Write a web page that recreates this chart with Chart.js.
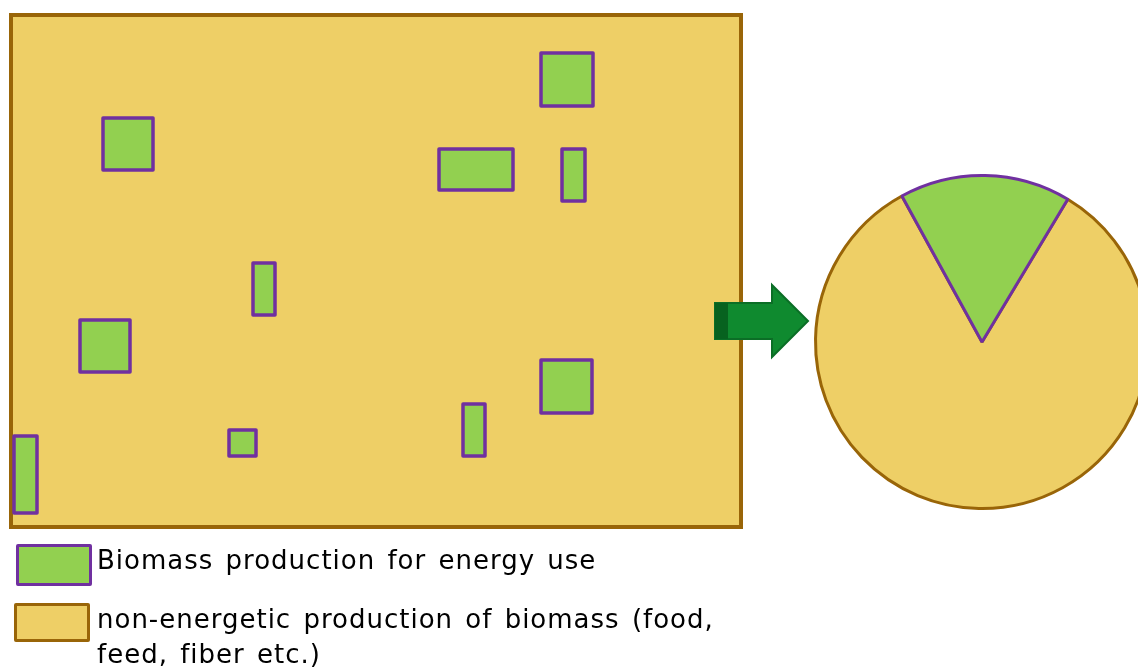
<!DOCTYPE html>
<html><head><meta charset="utf-8">
<script src="https://cdn.jsdelivr.net/npm/chart.js@4/dist/chart.umd.min.js"></script>
<style>
html,body{margin:0;padding:0;background:#fff;width:1138px;height:669px;overflow:hidden;position:relative}
#main{position:absolute;left:0;top:0}
#pieWrap{position:absolute;left:810px;top:170px;width:344px;height:344px}
.legend{position:absolute;left:97px;font-family:"DejaVu Sans",sans-serif;font-size:26px;color:#000;line-height:35px;white-space:nowrap;letter-spacing:1px;word-spacing:3px;font-variant-ligatures:none}
.sw{position:absolute;box-sizing:border-box;border-radius:2px}
</style></head><body>
<canvas id="main" width="1138" height="669"></canvas>
<div id="pieWrap"><canvas id="pie" width="344" height="344"></canvas></div>
<div class="sw" style="left:16px;top:544px;width:76px;height:42px;background:#92D050;border:3.5px solid #7030A0"></div>
<div class="sw" style="left:14px;top:603px;width:76px;height:39px;background:#EECF66;border:3.5px solid #996508"></div>
<div class="legend" id="lg1" style="top:543px"></div>
<div class="legend" id="lg2" style="top:602px"></div>
<script>
// ---- data (field units) ----
const landArea = [0, 0, 730, 512];               // whole agricultural area
const energyPlots = [                            // plots used for energy biomass [x0,y0,x1,y1]
  [92,103,142,155],
  [69,305,119,357],
  [242,248,264,300],
  [218,415,245,441],
  [3,421,26,498],
  [530,38,582,91],
  [428,134,502,175],
  [551,134,574,186],
  [530,345,581,398],
  [452,389,474,441]
];
const arrowOutline = [[704,306],[704,288],[761,288],[761,270],[797,306],[761,342],[761,324],[704,324],[704,306]];
const arrowShade = [704,288,717,324];
const legendLabels = ['Biomass production for energy use', 'non-energetic production of biomass (food,', 'feed, fiber etc.)'];
const pieLabels = ['non-energetic production of biomass', 'Biomass production for energy use'];
const pieShares = [83.4, 16.6];

// ---- styles ----
const C_YELLOW = '#EECF66', C_BROWN = '#996508', C_GREEN = '#92D050', C_PURPLE = '#7030A0';
const C_ARROW = '#0F8A2F', C_ARROW_B = '#0B6E26', C_ARROW_D = '#07621F';

document.getElementById('lg1').textContent = legendLabels[0];
document.getElementById('lg2').innerHTML = legendLabels[1] + '<br>' + legendLabels[2];

function rectPts(r){
  const mx = (r[0]+r[2])/2;
  return [{x:mx,y:r[1]},{x:r[2],y:r[1]},{x:r[2],y:r[3]},{x:r[0],y:r[3]},{x:r[0],y:r[1]},{x:mx,y:r[1]}];
}
function poly(pts, fillC, lineC, w, order, join){
  return {data: pts, showLine: true, fill: 'shape', backgroundColor: fillC, borderColor: lineC,
    borderWidth: w, pointRadius: 0, pointHoverRadius: 0, tension: 0, borderJoinStyle: join || 'round', order: order};
}
const datasets = [];
datasets.push(poly(rectPts(landArea), C_YELLOW, C_BROWN, 4, 10, 'miter'));
energyPlots.forEach(p => datasets.push(poly(rectPts(p), C_GREEN, C_PURPLE, 3.5, 5)));
datasets.push(poly(arrowOutline.map(a => ({x:a[0], y:a[1]})), C_ARROW, C_ARROW_B, 2, 2, 'miter'));
datasets.push(poly(rectPts(arrowShade), C_ARROW_D, C_ARROW_D, 0.01, 1, 'miter'));

new Chart(document.getElementById('main'), {
  type: 'scatter',
  data: {datasets},
  options: {
    responsive: false, animation: false, events: [],
    layout: {padding: 0},
    plugins: {legend: {display: false}, tooltip: {enabled: false}},
    scales: {
      x: {type: 'linear', display: false, min: -11, max: 1127},
      y: {type: 'linear', display: false, min: -15, max: 654, reverse: true}
    }
  }
});

new Chart(document.getElementById('pie'), {
  type: 'pie',
  data: {labels: pieLabels, datasets: [{data: pieShares, backgroundColor: [C_YELLOW, C_GREEN],
    borderColor: [C_BROWN, C_PURPLE], borderWidth: 3, hoverOffset: 0}]},
  options: {
    responsive: false, animation: false, events: [], rotation: 31, radius: 166.5,
    layout: {padding: 0},
    plugins: {legend: {display: false}, tooltip: {enabled: false}}
  }
});
</script>
</body></html>
